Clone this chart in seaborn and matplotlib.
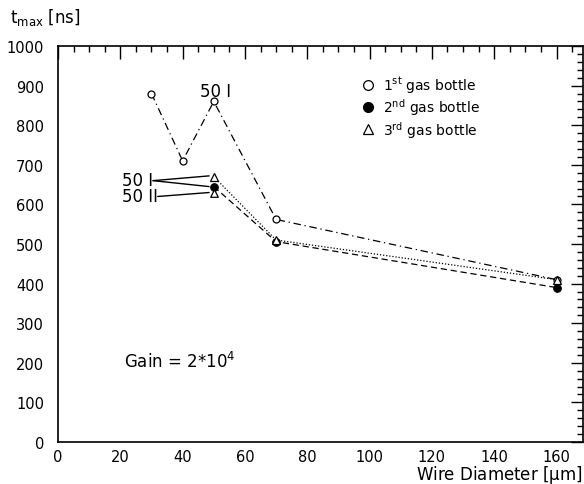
import matplotlib
matplotlib.use("Agg")
import matplotlib.pyplot as plt
from matplotlib.ticker import MultipleLocator
from matplotlib.lines import Line2D
import seaborn as sns

sns.set_theme(style="white")
plt.rcParams['font.family'] = ['DejaVu Sans']
plt.rcParams['mathtext.default'] = 'regular'
plt.rcParams['text.color'] = 'black'
plt.rcParams['axes.labelcolor'] = 'black'

# data
diam1 = [30, 40, 50, 70, 160]
t1 = [880, 710, 860, 562, 410]
diam2 = [50, 70, 160]
t2 = [645, 506, 390]
diam3 = [50, 70, 160]
t3 = [670, 510, 410]
diam3b = [50]
t3b = [630]
labels = [r"1$^{\rm st}$ gas bottle", r"2$^{\rm nd}$ gas bottle", r"3$^{\rm rd}$ gas bottle"]

fig = plt.figure(figsize=(5.84, 4.85), dpi=100)
ax = fig.add_axes([58/584, 42/485, (583-58)/584, (443-47)/485])

lw = 0.9
sns.lineplot(x=diam1, y=t1, ax=ax, estimator=None, sort=False, color='black', lw=lw,
             linestyle=(0, (6, 3, 1, 3)), marker='o', markersize=5, markerfacecolor='white',
             markeredgecolor='black', markeredgewidth=0.9)
sns.lineplot(x=diam2, y=t2, ax=ax, estimator=None, sort=False, color='black', lw=lw,
             linestyle=(0, (5, 3)), marker='o', markersize=5.5, markerfacecolor='black',
             markeredgecolor='black')
sns.lineplot(x=diam3, y=t3, ax=ax, estimator=None, sort=False, color='black', lw=lw,
             linestyle=(0, (1, 1.5)), marker='^', markersize=5.5, markerfacecolor='white',
             markeredgecolor='black', markeredgewidth=0.9)
sns.scatterplot(x=diam3b, y=t3b, ax=ax, marker='^', s=30, facecolor='white',
                edgecolor='black', linewidth=0.9, zorder=3)

ax.set_xlim(0, 168.5)
ax.set_ylim(0, 1000)
ax.xaxis.set_major_locator(MultipleLocator(20))
ax.xaxis.set_minor_locator(MultipleLocator(5))
ax.yaxis.set_major_locator(MultipleLocator(100))
ax.yaxis.set_minor_locator(MultipleLocator(20))
ax.tick_params(which='both', direction='in', top=True, right=True, color='black',
               labelsize=10.5, labelcolor='black')
ax.tick_params(which='major', length=9, width=1)
ax.tick_params(which='minor', length=4.5, width=1)
ax.tick_params(axis='y', pad=10)
ax.tick_params(axis='x', pad=5)
for s in ax.spines.values():
    s.set_color('black')
    s.set_linewidth(1.2)
ax.set_xlabel('')
ax.set_ylabel('')

# annotations
ax.text(50.5, 873, "50 I", fontsize=12, ha='center', va='baseline')
ax.text(20.5, 662, "50 I", fontsize=12, ha='left', va='center')
ax.text(20.5, 621, "50 II", fontsize=12, ha='left', va='center')
ax.plot([30.5, 48.5], [660, 672], color='black', lw=1)
ax.plot([30.5, 48.5], [660, 645], color='black', lw=1)
ax.plot([32, 48.5], [620, 630], color='black', lw=1)
ax.text(21.2, 205, r"Gain = 2*10$^{4}$", fontsize=12, ha='left', va='center')

handles = [
    Line2D([], [], ls='none', marker='o', markersize=7, mfc='white', mec='black', mew=0.9),
    Line2D([], [], ls='none', marker='o', markersize=7, mfc='black', mec='black'),
    Line2D([], [], ls='none', marker='^', markersize=7, mfc='white', mec='black', mew=0.9),
]
ax.legend(handles, labels, loc='upper left', bbox_to_anchor=(0.55, 0.96), frameon=False,
          fontsize=10, handletextpad=0.5, labelspacing=0.1, handlelength=1.2,
          labelcolor='black')

fig.text(10/584, 1 - 18/485, r"t$_{\rm max}$ [ns]", fontsize=12, ha='left', va='center')
fig.text(583/584, 1 - 475/485, r"Wire Diameter [$\mu$m]", fontsize=12, ha='right', va='center')

fig.savefig("out.png", dpi=100)
